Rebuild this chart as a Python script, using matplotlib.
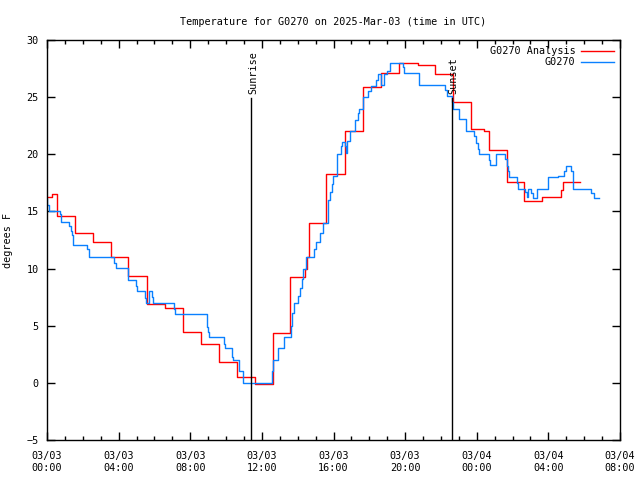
import matplotlib
matplotlib.use("Agg")
import matplotlib.pyplot as plt
from matplotlib.ticker import MultipleLocator, FuncFormatter

# hours since 03/03 00:00 UTC where the value changes, and the value from there on
analysis_hours = [0.0, 0.3, 0.55, 1.55, 2.55, 3.57, 4.55, 5.57, 6.6, 7.6, 8.6, 9.6,
                  10.6, 11.62, 12.6, 13.57, 14.4, 14.5, 14.65, 15.6, 16.65, 17.65,
                  18.65, 19.65, 20.7, 21.65, 22.65, 23.67, 24.4, 24.7, 25.7, 26.66,
                  27.67, 28.72, 28.8, 29.74]
analysis_temp = [16.3, 16.5, 14.6, 13.1, 12.35, 11.0, 9.35, 6.9, 6.55, 4.45, 3.4, 1.85,
                 0.5, -0.1, 4.4, 9.3, 10.0, 11.0, 14.0, 18.3, 22.0, 25.85,
                 27.15, 27.95, 27.8, 27.0, 24.55, 22.2, 22.05, 20.4, 17.55, 15.9,
                 16.25, 16.9, 17.55, 17.55]

obs_hours = [0.0, 0.02, 0.13, 0.73, 0.78, 1.25, 1.32, 1.38, 1.47, 2.23, 2.33, 3.76,
             3.85, 4.54, 4.97, 5.01, 5.45, 5.51, 5.7, 5.86, 5.9, 7.11, 7.17, 8.92,
             8.97, 9.05, 9.88, 9.94, 10.31, 10.41, 10.74, 10.97, 12.58, 12.64, 12.92,
             13.25, 13.63, 13.7, 13.81, 14.04, 14.13, 14.22, 14.32, 14.46, 14.91,
             15.02, 15.25, 15.43, 15.67, 15.71, 15.8, 15.9, 15.99, 16.18, 16.4, 16.46,
             16.64, 16.68, 16.74, 16.92, 17.2, 17.35, 17.44, 17.67, 17.95, 18.09,
             18.36, 18.47, 18.63, 18.84, 18.97, 19.16, 19.86, 19.94, 20.79, 22.23,
             22.32, 22.62, 22.69, 23.03, 23.4, 23.86, 23.96, 24.05, 24.14, 24.7,
             24.74, 25.06, 25.58, 25.67, 25.73, 25.8, 26.27, 26.32, 26.69, 26.79,
             26.85, 27.01, 27.16, 27.38, 28.0, 28.56, 28.89, 28.98, 29.25, 29.36,
             30.38, 30.55, 30.84]
obs_temp = [16.1, 15.6, 15.05, 14.75, 14.05, 13.7, 13.3, 12.9, 12.05, 11.7, 11.0, 10.5,
            10.05, 9.0, 8.5, 8.05, 7.45, 6.95, 8.0, 7.5, 6.95, 6.5, 6.05, 4.9,
            4.45, 4.05, 3.4, 3.05, 2.3, 2.0, 1.0, 0.0, 1.0, 2.0, 3.05,
            4.0, 5.0, 6.1, 6.95, 7.6, 8.3, 9.05, 10.0, 11.0, 11.7,
            12.3, 13.1, 14.0, 15.1, 16.0, 16.7, 17.4, 18.1, 20.0, 20.7, 21.05,
            20.7, 20.1, 21.2, 22.0, 23.0, 23.6, 24.0, 25.05, 25.5, 26.0,
            26.5, 27.05, 26.05, 27.05, 27.3, 28.0, 27.6, 27.1, 26.05, 25.6,
            25.1, 24.6, 24.0, 23.05, 22.05, 21.6, 21.0, 20.5, 20.0, 19.5,
            19.05, 20.0, 19.6, 19.0, 18.5, 18.0, 17.5, 17.0, 16.7, 16.3,
            17.0, 16.6, 16.15, 17.0, 18.0, 18.1, 18.5, 19.0, 18.5, 17.0,
            16.6, 16.15, 16.15]

sunrise = 11.4
sunset = 22.6

plt.rcParams['font.family'] = 'DejaVu Sans Mono'
plt.rcParams['font.size'] = 7.3

fig = plt.figure(figsize=(6.4, 4.8), dpi=100)
ax = fig.add_axes([47 / 640, 40 / 480, 573 / 640, 400 / 480])

ax.plot(analysis_hours, analysis_temp, drawstyle='steps-post', color='#ff0000',
        lw=1.0, label='G0270 Analysis')
ax.plot(obs_hours, obs_temp, drawstyle='steps-post', color='#0a80ff',
        lw=1.0, label='G0270')

for h, name in [(sunrise, 'Sunrise'), (sunset, 'Sunset')]:
    ax.plot([h, h], [-5, 24.9], color='black', lw=1.0)
    ax.text(h + 0.12, 25.3, name, rotation=90, ha='center', va='bottom')

ax.set_xlim(0, 32)
ax.set_ylim(-5, 30)
ax.xaxis.set_major_locator(MultipleLocator(4))
ax.xaxis.set_minor_locator(MultipleLocator(1))
ax.yaxis.set_major_locator(MultipleLocator(5))


def fmt_time(h, pos):
    h = int(round(h))
    return '03/%02d\n%02d:00' % (3 + h // 24, h % 24)


ax.xaxis.set_major_formatter(FuncFormatter(fmt_time))
ax.tick_params(which='both', direction='in', top=True, right=True, width=1.0)
ax.tick_params(which='major', length=6, pad=8)
ax.tick_params(which='minor', length=3)
ax.tick_params(axis='y', pad=6)
for s in ax.spines.values():
    s.set_linewidth(1.0)

ax.set_ylabel('degrees F', labelpad=10)
ax.set_title('Temperature for G0270 on 2025-Mar-03 (time in UTC)', pad=11,
             fontsize=7.3)
ax.legend(loc='upper right', frameon=False, markerfirst=False, handlelength=3.2,
          borderaxespad=0.2, labelspacing=0.1, handletextpad=0.6)

fig.savefig('out.png', dpi=100)
